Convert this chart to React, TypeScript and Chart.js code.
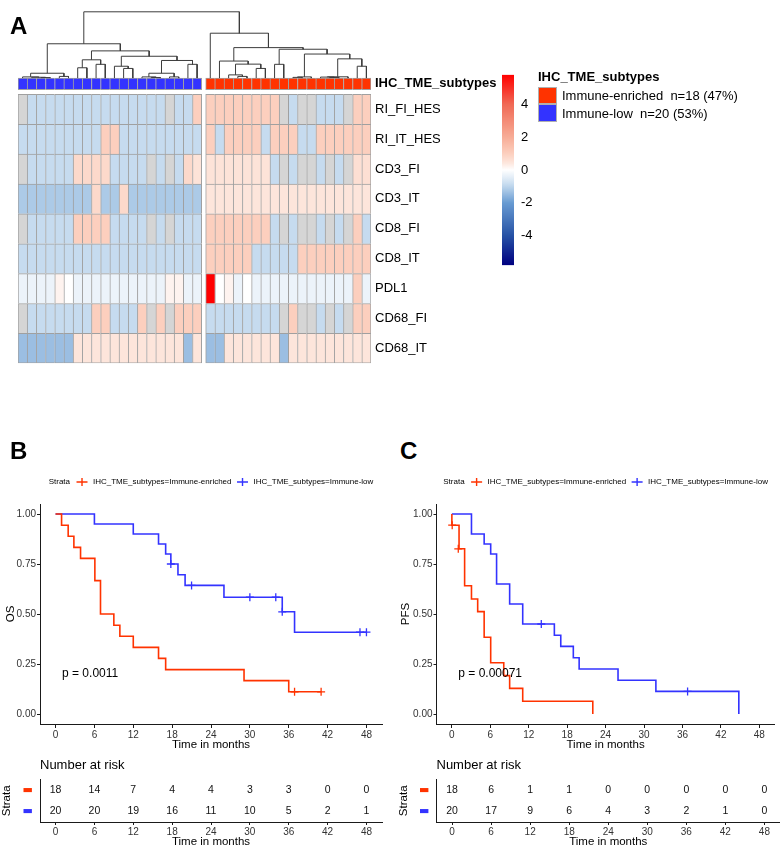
import React, { useEffect, useRef } from 'react';
import { Chart, registerables } from 'chart.js';

Chart.register(...registerables);

const FONT = "'Liberation Sans', Arial, Helvetica, sans-serif";
const RED = '#FF3300';
const BLUE = '#3333FF';
const NA_COLOR = '#D5D5D5';
const CELL_BORDER = '#A0A0A0';
const INK = '#1A1A1A';

// ---------------- Panel A: heatmap data ----------------
const rowNames = ['RI_FI_HES', 'RI_IT_HES', 'CD3_FI', 'CD3_IT', 'CD8_FI', 'CD8_IT', 'PDL1', 'CD68_FI', 'CD68_IT'];
const annotationName = 'IHC_TME_subtypes';
const subtypeNames = ['Immune-enriched', 'Immune-low'];
const nLow = 20;
const nEnriched = 18;

// 20 Immune-low columns, then 18 Immune-enriched columns (null = NA)
const RI_FI_HES = [
  null, -0.9, -0.9, -0.9, -0.9, -0.9, -0.9, -0.9, -0.9, -0.9, -0.9, -0.9, -0.9, -0.9, -0.9, -0.9, null, -0.9, -0.9, 1.0,
  1.0, 1.0, 1.0, 1.0, 1.0, 1.0, 1.0, 1.0, null, -0.9, null, null, -0.9, -0.9, -0.9, null, 1.0, 1.0];
const RI_IT_HES = [
  -0.9, -0.9, -0.9, -0.9, -0.9, -0.9, -0.9, -0.9, -0.9, 1.0, 1.0, -0.9, -0.9, -0.9, -0.9, -0.9, -0.9, -0.9, -0.9, -0.9,
  1.0, -0.9, 1.0, 1.0, 1.0, 1.0, -0.9, 1.0, 1.0, 1.0, -0.9, -0.9, 1.0, 1.0, 1.0, 1.0, 1.0, 1.0];
const CD3_FI = [
  null, -0.9, -0.9, -0.9, -0.9, -0.9, 0.75, 0.75, 0.75, 0.75, -0.9, -0.9, -0.9, -0.9, null, -0.9, null, -0.9, 0.75, 0.5,
  0.5, 0.5, 0.5, 0.5, 0.5, 0.5, 0.5, -0.9, null, -0.9, null, null, -0.9, null, -0.9, null, 0.6, 0.6];
const CD3_IT = [
  -1.2, -1.2, -1.2, -1.2, -1.2, -1.2, -1.2, -1.2, 0.75, -1.2, -1.2, 0.75, -1.2, -1.2, -1.2, -1.2, -1.2, -1.2, -1.2, -1.2,
  0.45, 0.45, 0.45, 0.45, 0.45, 0.45, 0.45, 0.45, 0.45, 0.45, 0.45, 0.45, 0.45, 0.45, 0.45, 0.45, 0.45, 0.45];
const CD8_FI = [
  null, -0.9, -0.9, -0.9, -0.9, -0.9, 1.0, 1.0, 1.0, 1.0, -0.9, -0.9, -0.9, -0.9, null, -0.9, null, -0.9, -0.9, -0.9,
  1.0, 1.0, 1.0, 1.0, 1.0, 1.0, 1.0, -0.9, null, -0.9, null, null, -0.9, null, -0.9, null, 1.0, -0.9];
const CD8_IT = [
  -0.9, -0.9, -0.9, -0.9, -0.9, -0.9, -0.9, -0.9, -0.9, -0.9, -0.9, -0.9, -0.9, -0.9, -0.9, -0.9, -0.9, -0.9, -0.9, -0.9,
  1.0, 1.0, 1.0, 1.0, 1.0, -0.9, -0.9, -0.9, -0.9, -0.9, 1.0, 1.0, 1.0, 1.0, 1.0, 1.0, 1.0, 1.0];
const PDL1 = [
  -0.3, -0.3, -0.3, -0.3, 0.2, 0, -0.3, -0.3, -0.3, -0.3, -0.3, -0.3, -0.3, -0.3, -0.3, -0.3, 0.2, 0.2, -0.3, -0.3,
  5.8, 0, 0.2, -0.3, 0, -0.3, -0.3, -0.3, -0.3, -0.3, -0.3, -0.3, -0.3, -0.3, -0.3, -0.3, 1.0, -0.3];
const CD68_FI = [
  null, -0.9, -0.9, -0.9, -0.9, -0.9, -0.9, -0.9, 1.0, 1.0, -0.9, -0.9, -0.9, 1.0, null, 1.0, null, 1.0, 1.0, 1.0,
  -0.9, -0.9, -0.9, -0.9, -0.9, -0.9, -0.9, -0.9, null, 1.0, null, null, -0.9, null, -0.9, null, 1.0, 1.0];
const CD68_IT = [
  -1.4, -1.4, -1.4, -1.4, -1.4, -1.4, 0.45, 0.45, 0.45, 0.45, 0.45, 0.45, 0.45, 0.45, 0.45, 0.45, 0.45, 0.45, -1.4, 0.45,
  -1.4, -1.4, 0.45, 0.45, 0.45, 0.45, 0.45, 0.45, -1.4, 0.45, 0.45, 0.45, 0.45, 0.45, 0.45, 0.45, 0.45, 0.45];
const heatRows = [RI_FI_HES, RI_IT_HES, CD3_FI, CD3_IT, CD8_FI, CD8_IT, PDL1, CD68_FI, CD68_IT];

// column dendrograms, hclust-style merges: [a, b, height]; negative = leaf (1-based), positive = earlier merge
const lowMerges = [
  [-3, -4, 0.5], [-2, 1, 0.8], [-1, 2, 1.2], [-5, -6, 1.7], [3, 4, 5],
  [-7, -8, 10.7], [-9, -10, 14.3], [6, 7, 19], [-12, -13, 10], [-11, 9, 12.3],
  [-15, -16, 0.6], [-14, 11, 1.2], [-17, -18, 1.2], [12, 13, 5], [-19, -20, 14.3],
  [14, 15, 18.3], [10, 16, 22.7], [8, 17, 28.3], [5, 18, 35.7]];
const enrichedMerges = [
  [-4, -5, 1.7], [-3, 1, 3.3], [-6, -7, 10], [2, 3, 14.5], [-2, 4, 17.7],
  [-8, -9, 14.3], [-10, -11, 0.7], [7, -12, 1.2], [-14, -15, 0.6], [-13, 9, 1.0],
  [10, -16, 1.3], [-17, -18, 12.3], [11, 12, 20], [8, 13, 25], [6, 14, 30],
  [5, 15, 31.7], [-1, 16, 46.7]];
const rootHeight = 69;

const colorBarTicks = [4, 2, 0, -2, -4];
const colorLimit = 5.8;

// ---------------- Panels B / C: Kaplan-Meier data ----------------
const timeTicks = [0, 6, 12, 18, 24, 30, 36, 42, 48];
const survTicks = [0, 0.25, 0.5, 0.75, 1];

const osEnrichedT = [0, 0.93, 1.95, 2.83, 3.86, 6.07, 6.94, 9.0, 9.93, 12.0, 15.9, 17.0, 29.1, 36.0, 41.0];
const osEnrichedS = [1, 0.944, 0.889, 0.833, 0.778, 0.667, 0.5, 0.444, 0.389, 0.333, 0.278, 0.222, 0.167, 0.111, 0.111];
const osEnrichedCensorT = [36.9, 41.0];
const osEnrichedCensorS = [0.111, 0.111];
const osLowT = [0, 6.0, 12.0, 15.9, 17.0, 17.8, 18.9, 20.0, 26.0, 35.0, 36.9, 48.0];
const osLowS = [1, 0.95, 0.9, 0.85, 0.8, 0.75, 0.696, 0.643, 0.584, 0.511, 0.409, 0.409];
const osLowCensorT = [17.8, 21.0, 30.0, 34.0, 35.0, 47.0, 48.0];
const osLowCensorS = [0.75, 0.643, 0.584, 0.584, 0.511, 0.409, 0.409];

const pfsEnrichedT = [0, 0, 1.12, 1.99, 3.06, 4.03, 5.04, 6.06, 8.1, 9.02, 11.06, 22.0];
const pfsEnrichedS = [1, 0.944, 0.826, 0.641, 0.575, 0.512, 0.384, 0.256, 0.192, 0.128, 0.064, 0];
const pfsEnrichedCensorT = [0.05, 1.0];
const pfsEnrichedCensorS = [0.944, 0.826];
const pfsLowT = [0, 3.06, 5.04, 6.06, 6.98, 9.02, 11.06, 16.0, 17.0, 18.96, 19.87, 25.94, 31.85, 44.8];
const pfsLowS = [1, 0.9, 0.85, 0.8, 0.65, 0.55, 0.45, 0.394, 0.338, 0.281, 0.225, 0.169, 0.113, 0];
const pfsLowCensorT = [13.96, 36.8];
const pfsLowCensorS = [0.45, 0.113];

const osRiskEnriched = [18, 14, 7, 4, 4, 3, 3, 0, 0];
const osRiskLow = [20, 20, 19, 16, 11, 10, 5, 2, 1];
const pfsRiskEnriched = [18, 6, 1, 1, 0, 0, 0, 0, 0];
const pfsRiskLow = [20, 17, 9, 6, 4, 3, 2, 1, 0];
const osPValue = 'p = 0.0011';
const pfsPValue = 'p = 0.00071';

// ---------------- colour mapping ----------------
const colorStops: [number, number[]][] = [
  [-5.8, [0, 0, 128]],
  [-4, [38, 82, 165]],
  [-2, [104, 155, 210]],
  [-0.9, [198, 219, 239]],
  [0, [255, 255, 255]],
  [0.45, [253, 229, 219]],
  [1.0, [252, 207, 190]],
  [2, [247, 172, 150]],
  [4, [240, 105, 85]],
  [5.8, [255, 0, 0]],
];
function heatColor(v: number | null): string {
  if (v === null || v === undefined) return NA_COLOR;
  const s = colorStops;
  const f = (c: number[]) => `rgb(${Math.round(c[0])},${Math.round(c[1])},${Math.round(c[2])})`;
  if (v <= s[0][0]) return f(s[0][1]);
  for (let i = 1; i < s.length; i++) {
    if (v <= s[i][0]) {
      const t = (v - s[i - 1][0]) / (s[i][0] - s[i - 1][0]);
      const a = s[i - 1][1];
      const b = s[i][1];
      return f([a[0] + (b[0] - a[0]) * t, a[1] + (b[1] - a[1]) * t, a[2] + (b[2] - a[2]) * t]);
    }
  }
  return f(s[s.length - 1][1]);
}

// ---------------- layout constants (pixels in heatmap canvas) ----------------
const HM = { top: 3, annTop: 72, annBottom: 84, rowsTop: 89, bottom: 369, left: 18, right: 371, width: 525, height: 375 };
const BLOCK_GAP = 0.435;

function buildDendrogram(merges: number[][], leafX: (i: number) => number) {
  const nodes: { x: number; h: number }[] = [];
  const pts: any[] = [];
  const nodeOf = (k: number) => (k < 0 ? { x: leafX(-k - 1), h: 0 } : nodes[k - 1]);
  merges.forEach(([a, b, h]) => {
    const pa = nodeOf(a);
    const pb = nodeOf(b);
    pts.push({ x: pa.x, y: pa.h }, { x: pa.x, y: h }, { x: pb.x, y: h }, { x: pb.x, y: pb.h }, { x: pb.x, y: null });
    nodes.push({ x: (pa.x + pb.x) / 2, h });
  });
  return { pts, root: nodes[nodes.length - 1] };
}

function makeHeatmap(canvas: HTMLCanvasElement) {
  const nCols = nLow + nEnriched;
  const nRows = rowNames.length;
  const colX = (c: number) => (c < nLow ? c + 0.5 : c + BLOCK_GAP + 0.5);
  const rowH = (HM.bottom - HM.rowsTop) / nRows;
  const yMin = -(HM.rowsTop - HM.top) / rowH;
  const ann0 = (HM.annTop - HM.rowsTop) / rowH;
  const ann1 = (HM.annBottom - HM.rowsTop) / rowH;
  const annMid = (ann0 + ann1) / 2;

  const cellData: any[] = [];
  const cellColors: string[] = [];
  const cellBorders: any[] = [];
  heatRows.forEach((row, r) => row.forEach((v, c) => {
    cellData.push({ x: colX(c), y: [r, r + 1] });
    cellColors.push(heatColor(v as any));
    cellBorders.push({ left: 1, top: 1, right: c === nLow - 1 || c === nCols - 1 ? 1 : 0, bottom: r === nRows - 1 ? 1 : 0 });
  }));
  const annData: any[] = [];
  const annColors: string[] = [];
  const annBorders: any[] = [];
  for (let c = 0; c < nCols; c++) {
    annData.push({ x: colX(c), y: [ann0, ann1] });
    annColors.push(c < nLow ? BLUE : RED);
    annBorders.push({ left: 1, top: 1, bottom: 1, right: c === nLow - 1 || c === nCols - 1 ? 1 : 0 });
  }

  const left = buildDendrogram(lowMerges, (i) => colX(i));
  const right = buildDendrogram(enrichedMerges, (j) => colX(nLow + j));
  const dendro = [
    ...left.pts, ...right.pts,
    { x: left.root.x, y: left.root.h }, { x: left.root.x, y: rootHeight },
    { x: right.root.x, y: rootHeight }, { x: right.root.x, y: right.root.h },
  ];
  const ydMax = rootHeight;
  const ydMin = rootHeight - ((HM.bottom - HM.top) * rootHeight) / (HM.annTop - HM.top);
  const fallback = { left: 1, top: 1, right: 0, bottom: 0 };

  return new Chart(canvas, {
    type: 'bar',
    data: {
      datasets: [
        { type: 'line', data: dendro, xAxisID: 'x', yAxisID: 'yd', borderColor: '#3c3c3c', borderWidth: 1, pointRadius: 0, spanGaps: false, fill: false, tension: 0, clip: false } as any,
        { type: 'bar', data: annData, xAxisID: 'x', yAxisID: 'y', backgroundColor: annColors, borderColor: CELL_BORDER, borderWidth: (ctx: any) => annBorders[ctx.dataIndex] || fallback, borderSkipped: false, grouped: false, barPercentage: 1, categoryPercentage: 1 } as any,
        { type: 'bar', data: cellData, xAxisID: 'x', yAxisID: 'y', backgroundColor: cellColors, borderColor: CELL_BORDER, borderWidth: (ctx: any) => cellBorders[ctx.dataIndex] || fallback, borderSkipped: false, grouped: false, barPercentage: 1, categoryPercentage: 1 } as any,
      ],
    },
    options: {
      responsive: false,
      animation: false,
      devicePixelRatio: 1,
      layout: { padding: { left: HM.left, top: HM.top, right: 0, bottom: HM.height - HM.bottom } },
      plugins: { legend: { display: false }, tooltip: { enabled: false } },
      scales: {
        x: { type: 'linear', display: false, min: 0, max: nCols + BLOCK_GAP, offset: false, afterBuildTicks: (s: any) => { s.ticks = [{ value: 0 }]; } },
        y: {
          type: 'linear', position: 'right', reverse: true, min: yMin, max: nRows,
          grid: { display: false, drawTicks: false }, border: { display: false },
          afterBuildTicks: (s: any) => { s.ticks = [{ value: annMid }, ...rowNames.map((_, i) => ({ value: i + 0.5 }))]; },
          ticks: {
            autoSkip: false, padding: 4, color: '#000',
            font: (ctx: any) => ({ family: FONT, size: 13, weight: ctx.index === 0 ? 'bold' : 'normal' }),
            callback: (_v: any, i: number) => (i === 0 ? annotationName : rowNames[i - 1]),
          },
          afterFit: (s: any) => { s.width = HM.width - HM.right; },
        },
        yd: { type: 'linear', display: false, min: ydMin, max: ydMax },
      },
    } as any,
  });
}

function makeColorBar(canvas: HTMLCanvasElement) {
  return new Chart(canvas, {
    type: 'bar',
    data: {
      labels: [''],
      datasets: [{
        data: [[-colorLimit, colorLimit]] as any,
        backgroundColor: (ctx: any) => {
          const area = ctx.chart.chartArea;
          if (!area) return '#fff';
          const g = ctx.chart.ctx.createLinearGradient(0, area.bottom, 0, area.top);
          const n = 58;
          for (let i = 0; i <= n; i++) g.addColorStop(i / n, heatColor(-colorLimit + (2 * colorLimit * i) / n));
          return g;
        },
        borderWidth: 0, barPercentage: 1, categoryPercentage: 1,
      }],
    },
    options: {
      responsive: false, animation: false, devicePixelRatio: 1,
      layout: { padding: { left: 7, top: 12, bottom: 12, right: 0 } },
      plugins: { legend: { display: false }, tooltip: { enabled: false } },
      scales: {
        x: { display: false },
        y: {
          position: 'right', min: -colorLimit, max: colorLimit,
          afterBuildTicks: (s: any) => { s.ticks = colorBarTicks.map((v) => ({ value: v })); },
          grid: { display: false, drawTicks: false }, border: { display: false },
          ticks: { font: { family: FONT, size: 13 }, color: '#000', padding: 7 },
          afterFit: (s: any) => { s.width = 41; },
        },
      },
    } as any,
  });
}

const xPad = 0.05 * (timeTicks[timeTicks.length - 1] - timeTicks[0]);

function timeAxis(height: number, tickLen: number, titleBottom: number) {
  return {
    type: 'linear', min: timeTicks[0] - xPad, max: timeTicks[timeTicks.length - 1] + xPad,
    afterBuildTicks: (s: any) => { s.ticks = timeTicks.map((v) => ({ value: v })); },
    ticks: { font: { family: FONT, size: 10 }, color: '#333', padding: 1, autoSkip: false, maxRotation: 0 },
    grid: { display: true, drawOnChartArea: false, drawTicks: true, tickLength: tickLen, color: INK, lineWidth: 1 },
    border: { display: true, color: INK, width: 1 },
    title: { display: true, text: 'Time in months', font: { family: FONT, size: 11.5 }, color: '#000', padding: { top: 0, bottom: titleBottom } },
    afterFit: (s: any) => { s.height = height; },
  };
}

// legend drawn above the survival panel, centred on the plotting area
const kmLegendPlugin = {
  id: 'kmLegend',
  afterDraw(chart: any) {
    const { ctx, chartArea } = chart;
    const texts = [`${annotationName}=${subtypeNames[0]}`, `${annotationName}=${subtypeNames[1]}`];
    const colors = [RED, BLUE];
    const markerW = 11;
    ctx.save();
    ctx.font = `8px ${FONT}`;
    ctx.textBaseline = 'middle';
    ctx.textAlign = 'left';
    ctx.fillStyle = '#000';
    const wS = ctx.measureText('Strata').width;
    const wT = texts.map((t) => ctx.measureText(t).width);
    const total = wS + 6.5 + markerW + 5.5 + wT[0] + 5.5 + markerW + 5.5 + wT[1];
    let x = (chartArea.left + chartArea.right) / 2 - total / 2;
    const y = 16;
    ctx.fillText('Strata', x, y);
    x += wS + 6.5;
    texts.forEach((t, i) => {
      ctx.strokeStyle = colors[i];
      ctx.lineWidth = 1.4;
      ctx.beginPath();
      ctx.moveTo(x, y); ctx.lineTo(x + markerW, y);
      ctx.moveTo(x + markerW / 2, y - 4); ctx.lineTo(x + markerW / 2, y + 4);
      ctx.stroke();
      x += markerW + 5.5;
      ctx.fillText(t, x, y);
      x += wT[i] + 5.5;
    });
    ctx.restore();
  },
};

function makeKM(canvas: HTMLCanvasElement, o: any) {
  const ds: any[] = [];
  o.curves.forEach((cv: any) => {
    ds.push({ type: 'line', data: cv.t.map((t: number, i: number) => ({ x: t, y: cv.s[i] })), borderColor: cv.color, borderWidth: 1.6, stepped: 'before', pointRadius: 0, fill: false, tension: 0 });
    ds.push({ type: 'line', data: cv.ct.map((t: number, i: number) => ({ x: t, y: cv.cs[i] })), showLine: false, borderColor: cv.color, backgroundColor: cv.color, pointStyle: 'cross', pointRadius: 4, pointBorderWidth: 1.3, borderWidth: 1.3 });
  });
  const pPlugin = {
    id: 'pvalue',
    afterDatasetsDraw(chart: any) {
      const { ctx, scales } = chart;
      ctx.save();
      ctx.font = `12px ${FONT}`;
      ctx.fillStyle = '#000';
      ctx.textAlign = 'left';
      ctx.textBaseline = 'middle';
      ctx.fillText(o.pText, scales.x.getPixelForValue(1), scales.y.getPixelForValue(0.2));
      ctx.restore();
    },
  };
  return new Chart(canvas, {
    type: 'line',
    data: { datasets: ds },
    options: {
      responsive: false, animation: false, devicePixelRatio: 1,
      layout: { padding: { top: 38, right: o.padRight, left: 0, bottom: 0 } },
      plugins: { tooltip: { enabled: false }, legend: { display: false } },
      scales: {
        x: timeAxis(32, 4, 4),
        y: {
          min: -0.05, max: 1.05,
          afterBuildTicks: (s: any) => { s.ticks = survTicks.map((v) => ({ value: v })); },
          ticks: { callback: (v: any) => Number(v).toFixed(2), font: { family: FONT, size: 10 }, color: '#333', padding: 1 },
          grid: { display: true, drawOnChartArea: false, drawTicks: true, tickLength: 3, color: INK, lineWidth: 1 },
          border: { display: true, color: INK, width: 1 },
          title: { display: true, text: o.yTitle, font: { family: FONT, size: 11.5 }, color: '#000', padding: { top: o.titlePad, bottom: 0 } },
          afterFit: (s: any) => { s.width = o.axisW; },
        },
      },
    } as any,
    plugins: [pPlugin, kmLegendPlugin],
  });
}

function makeRisk(canvas: HTMLCanvasElement, o: any) {
  const ds = o.rows.map((row: number[], i: number) => ({
    type: 'line', data: row.map((n, j) => ({ x: timeTicks[j], y: subtypeNames[i], n })), showLine: false, pointRadius: 0,
  }));
  const textPlugin = {
    id: 'riskText',
    afterDatasetsDraw(chart: any) {
      const { ctx } = chart;
      ctx.save();
      ctx.font = `10.5px ${FONT}`;
      ctx.fillStyle = '#111';
      ctx.textAlign = 'center';
      ctx.textBaseline = 'middle';
      chart.data.datasets.forEach((d: any, i: number) => {
        chart.getDatasetMeta(i).data.forEach((el: any, j: number) => ctx.fillText(String(d.data[j].n), el.x, el.y));
      });
      ctx.restore();
    },
  };
  return new Chart(canvas, {
    type: 'line',
    data: { datasets: ds },
    options: {
      responsive: false, animation: false, devicePixelRatio: 1,
      layout: { padding: { top: 0, right: o.padRight, left: 0, bottom: 0 } },
      plugins: {
        tooltip: { enabled: false },
        legend: { display: false },
        title: { display: true, text: 'Number at risk', align: 'start', fullSize: false, color: '#000', font: { family: FONT, size: 13, weight: 'normal' }, padding: { top: 3, bottom: 6 } },
      },
      scales: {
        x: timeAxis(28, 3, 1),
        y: {
          type: 'category', labels: subtypeNames, offset: true,
          grid: { display: false, drawTicks: false }, border: { display: true, color: INK, width: 1 },
          ticks: { callback: () => '\u25AC', font: { family: 'DejaVu Sans', size: 11 }, color: (ctx: any) => (ctx.index === 0 ? RED : BLUE), padding: 7 },
          title: { display: true, text: 'Strata', font: { family: FONT, size: 11.5 }, color: '#000', padding: { top: o.titlePad, bottom: 0 } },
          afterFit: (s: any) => { s.width = o.axisW; },
        },
      },
    } as any,
    plugins: [textPlugin],
  });
}

function ChartCanvas({ left, top, width, height, make }: any) {
  const ref = useRef<HTMLCanvasElement>(null);
  useEffect(() => {
    const chart = make(ref.current);
    return () => chart.destroy();
  }, []);
  return <canvas ref={ref} width={width} height={height} style={{ position: 'absolute', left, top, width, height }} />;
}

const panelLabel = (left: number, top: number): any => ({ position: 'absolute', left, top, font: `bold 24px ${FONT}`, lineHeight: '24px', color: '#000' });
const legendText = (left: number, top: number, bold = false): any => ({ position: 'absolute', left, top, font: `${bold ? 'bold ' : ''}13px ${FONT}`, lineHeight: '16px', color: '#000', whiteSpace: 'pre' });

export default function App() {
  const total = nLow + nEnriched;
  const pct = (n: number) => Math.round((100 * n) / total);
  const osCurves = [
    { t: osEnrichedT, s: osEnrichedS, ct: osEnrichedCensorT, cs: osEnrichedCensorS, color: RED },
    { t: osLowT, s: osLowS, ct: osLowCensorT, cs: osLowCensorS, color: BLUE },
  ];
  const pfsCurves = [
    { t: pfsEnrichedT, s: pfsEnrichedS, ct: pfsEnrichedCensorT, cs: pfsEnrichedCensorS, color: RED },
    { t: pfsLowT, s: pfsLowS, ct: pfsLowCensorT, cs: pfsLowCensorS, color: BLUE },
  ];
  return (
    <div style={{ position: 'absolute', left: 0, top: 0, width: 780, height: 850, background: '#fff', overflow: 'hidden' }}>
      <ChartCanvas left={0} top={0} width={HM.width} height={HM.height} make={makeHeatmap} />
      <ChartCanvas left={495} top={60} width={60} height={220} make={makeColorBar} />
      <div style={panelLabel(10, 14)}>A</div>
      <div style={legendText(538, 69, true)}>{annotationName}</div>
      <div style={{ position: 'absolute', left: 538, top: 87, width: 19, height: 17, background: RED, boxSizing: 'border-box', border: '1px solid #b0b0b0' }} />
      <div style={{ position: 'absolute', left: 538, top: 104, width: 19, height: 18, background: BLUE, boxSizing: 'border-box', border: '1px solid #b0b0b0' }} />
      <div style={legendText(562, 88)}>{`${subtypeNames[0]}  n=${nEnriched} (${pct(nEnriched)}%)`}</div>
      <div style={legendText(562, 106)}>{`${subtypeNames[1]}  n=${nLow} (${pct(nLow)}%)`}</div>

      <div style={panelLabel(10, 439)}>B</div>
      <div style={panelLabel(400, 439)}>C</div>
      <ChartCanvas left={0} top={466} width={390} height={290}
        make={(c: HTMLCanvasElement) => makeKM(c, { curves: osCurves, yTitle: 'OS', pText: osPValue, axisW: 40, titlePad: 4, padRight: 8 })} />
      <ChartCanvas left={390} top={466} width={390} height={290}
        make={(c: HTMLCanvasElement) => makeKM(c, { curves: pfsCurves, yTitle: 'PFS', pText: pfsPValue, axisW: 46.5, titlePad: 9, padRight: 0 })} />
      <ChartCanvas left={0} top={755} width={390} height={95}
        make={(c: HTMLCanvasElement) => makeRisk(c, { rows: [osRiskEnriched, osRiskLow], axisW: 40, titlePad: 0, padRight: 8 })} />
      <ChartCanvas left={390} top={755} width={390} height={95}
        make={(c: HTMLCanvasElement) => makeRisk(c, { rows: [pfsRiskEnriched, pfsRiskLow], axisW: 46.5, titlePad: 7, padRight: 0 })} />
    </div>
  );
}
